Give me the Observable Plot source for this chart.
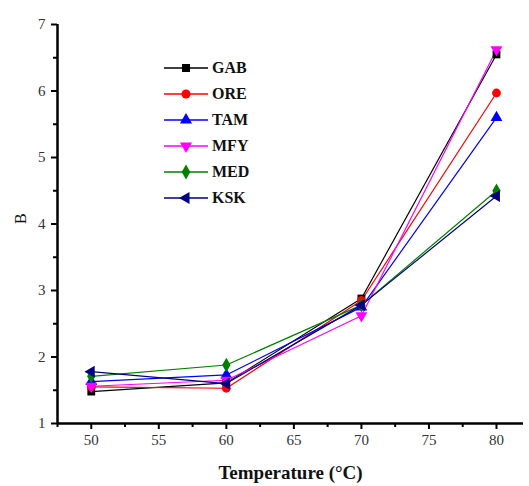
<!DOCTYPE html>
<html><head><meta charset="utf-8">
<script src="https://cdn.jsdelivr.net/npm/d3@7"></script>
<script src="https://cdn.jsdelivr.net/npm/@observablehq/plot@0.6"></script>
<style>
body{margin:0;background:#fff;}
#wrap{position:relative;width:529px;height:486px;}
#legend{position:absolute;left:160px;top:58px;}
</style></head>
<body><div id="wrap"><div id="chart"></div><svg id="legend" width="110" height="160" font-family="Liberation Serif"></svg></div>
<script>
const temps = [50, 60, 70, 80];
const series = ["GAB", "ORE", "TAM", "MFY", "MED", "KSK"];
const GAB = [1.48, 1.61, 2.88, 6.55];
const ORE = [1.55, 1.53, 2.85, 5.97];
const TAM = [1.63, 1.73, 2.75, 5.60];
const MFY = [1.56, 1.65, 2.62, 6.62];
const MED = [1.71, 1.88, 2.78, 4.50];
const KSK = [1.78, 1.60, 2.78, 4.42];
const colors = ["#000000", "#ff0000", "#0000ff", "#ff00ff", "#008000", "#000080"];
const symbols = ["square", "circle", "triangle", "triangle", "diamond", "triangle"];
const rotations = [0, 0, 0, 180, 0, -90];
const xMajor = [50, 55, 60, 65, 70, 75, 80];
const xMinor = [47.5, 52.5, 57.5, 62.5, 67.5, 72.5, 77.5];
const yMajor = [1, 2, 3, 4, 5, 6, 7];
const yMinor = [1.5, 2.5, 3.5, 4.5, 5.5, 6.5];

const values = {GAB, ORE, TAM, MFY, MED, KSK};
const data = series.flatMap((s, i) => temps.map((t, j) => ({name: s, idx: i, x: t, y: values[s][j]})));

const chart = Plot.plot({
  width: 529, height: 486,
  marginLeft: 57, marginTop: 24, marginBottom: 63, marginRight: 6,
  style: {fontFamily: "Liberation Serif", fontSize: "15px", background: "#fff"},
  x: {domain: [47.5, 82]},
  y: {domain: [1, 7]},
  color: {domain: series, range: colors},
  symbol: {domain: series, range: symbols},
  marks: [
    Plot.axisX(xMajor, {tickSize: 6, strokeWidth: 2, tickPadding: 5, fontSize: 15, fill: "#333", label: null, tickFormat: "d"}),
    Plot.axisX(xMinor, {tickSize: 4, strokeWidth: 2, text: null, label: null}),
    Plot.axisY(yMajor, {tickSize: 6, strokeWidth: 2, tickPadding: 6, fontSize: 15, fill: "#333", label: null, tickFormat: "d"}),
    Plot.axisY(yMinor, {tickSize: 4, strokeWidth: 2, text: null, label: null}),
    Plot.ruleY([1], {strokeWidth: 2.5}),
    Plot.ruleX([47.5], {strokeWidth: 2.5}),
    Plot.line(data, {x: "x", y: "y", z: "name", stroke: "name", strokeWidth: 1.2}),
    Plot.dot(data, {x: "x", y: "y", symbol: "name", fill: "name", r: 4.4, rotate: d => rotations[d.idx]}),
    Plot.text(["Temperature (°C)"], {frameAnchor: "bottom", dy: 55, fontWeight: "bold", fontSize: 19, fill: "#111"}),
    Plot.text(["B"], {frameAnchor: "left", dx: -37, rotate: -90, fontSize: 16, fill: "#111"})
  ]
});
document.getElementById("chart").append(chart);

const lg = d3.select("#legend");
series.forEach((s, i) => {
  const g = lg.append("g").attr("transform", `translate(0,${10 + i * 26})`);
  g.append("line").attr("x1", 4).attr("x2", 48).attr("stroke", colors[i]).attr("stroke-width", 1.5);
  const typ = {square: d3.symbolSquare, circle: d3.symbolCircle, triangle: d3.symbolTriangle, diamond: d3.symbolDiamond}[symbols[i]];
  g.append("path").attr("d", d3.symbol(typ, 64)()).attr("fill", colors[i])
    .attr("transform", `translate(26,0) rotate(${rotations[i]})`);
  g.append("text").attr("x", 52).attr("y", 5).attr("font-weight", "bold")
    .attr("font-size", 16).attr("fill", "#111").text(s);
});
</script></body></html>
